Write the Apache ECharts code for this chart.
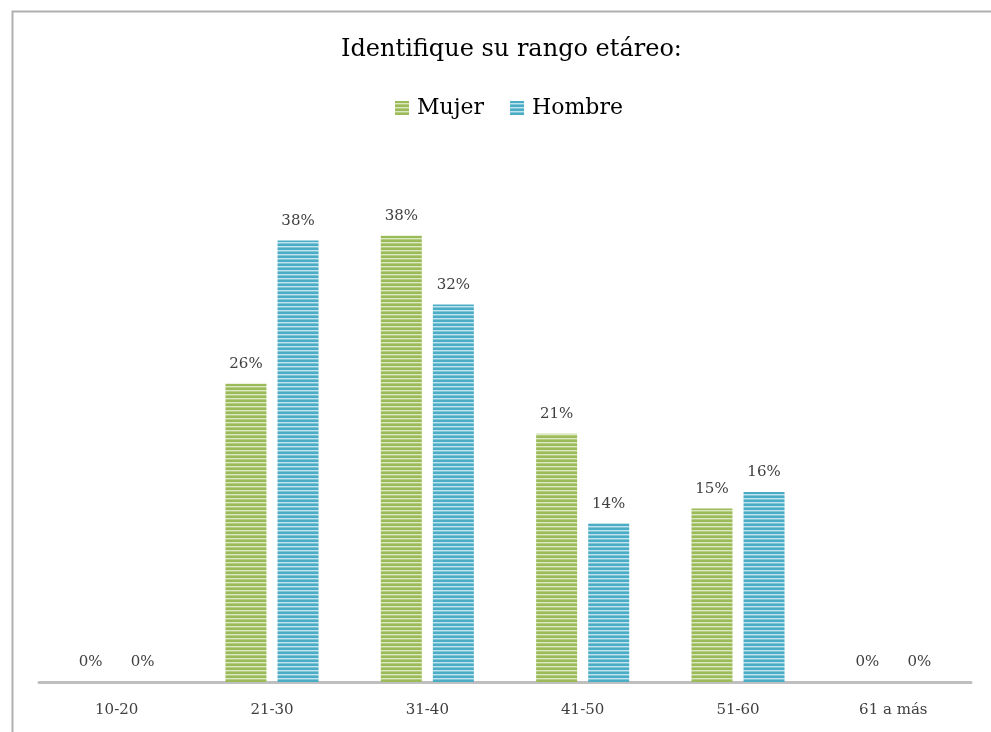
<!DOCTYPE html>
<html>
<head>
<meta charset="utf-8">
<script src="https://cdn.jsdelivr.net/npm/echarts@6/dist/echarts.min.js"></script>
<style>html,body{margin:0;padding:0;background:#fff;}#c{width:991px;height:732px;}</style>
</head>
<body>
<div id="c"></div>
<script>
const categories = ['10-20', '21-30', '31-40', '41-50', '51-60', '61 a más'];
const mujer = [0, 25.6, 38.3, 21.3, 14.9, 0];
const hombre = [0, 37.9, 32.4, 13.6, 16.3, 0];
const seriesNames = ['Mujer', 'Hombre'];
const titleText = 'Identifique su rango etáreo:';

function stripes(dark, light, mid) {
  const c = document.createElement('canvas');
  c.width = 4; c.height = 4;
  const g = c.getContext('2d');
  g.fillStyle = dark; g.fillRect(0, 0, 4, 2);
  g.fillStyle = light; g.fillRect(0, 2, 4, 1);
  g.fillStyle = mid; g.fillRect(0, 3, 4, 1);
  return { image: c, repeat: 'repeat' };
}
const greenFill = stripes('#9bbb59', '#dbe8c2', '#b5cd83');
const blueFill = stripes('#4bacc6', '#c2e4ee', '#7fc4d7');

const font = '"DejaVu Serif", "Liberation Serif", serif';
const chart = echarts.init(document.getElementById('c'), null, { renderer: 'canvas' });
const labelOpt = {
  show: true, position: 'top', distance: 12, color: '#404040', fontSize: 15, fontFamily: font,
  formatter: p => Math.round(p.value) + '%'
};
chart.setOption({
  animation: false,
  backgroundColor: '#fff',
  graphic: [{
    type: 'rect', left: 10, top: 9, shape: { width: 1100, height: 900 },
    style: { fill: 'none', stroke: '#b0b0b0', lineWidth: 2 }, silent: true
  }],
  title: {
    text: titleText, left: 336, top: 33,
    textStyle: { fontFamily: font, fontSize: 24, fontWeight: 'normal', color: '#000' }
  },
  legend: {
    top: 92, left: 390, itemWidth: 14, itemHeight: 14, itemGap: 26,
    icon: 'rect',
    textStyle: { fontFamily: font, fontSize: 22, color: '#000', padding: [0, 0, 0, 3] },
    data: seriesNames
  },
  grid: { left: 39, right: 20, bottom: 50, top: 216, containLabel: false },
  xAxis: {
    type: 'category', data: categories,
    axisLine: { lineStyle: { color: '#bfbfbf', width: 3 } },
    axisTick: { show: false },
    axisLabel: { color: '#404040', fontSize: 15, fontFamily: font, margin: 21 }
  },
  yAxis: { type: 'value', min: 0, max: 40, show: false, splitLine: { show: false } },
  series: [
    { name: seriesNames[0], type: 'bar', data: mujer, barWidth: 41, barGap: '27%',
      itemStyle: { color: greenFill }, label: labelOpt },
    { name: seriesNames[1], type: 'bar', data: hombre, barWidth: 41, barGap: '27%',
      itemStyle: { color: blueFill }, label: labelOpt }
  ]
});
</script>
</body>
</html>
